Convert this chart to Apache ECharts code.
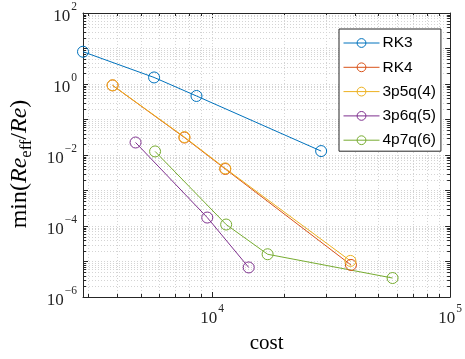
<!DOCTYPE html>
<html><head><meta charset="utf-8">
<script src="https://cdn.jsdelivr.net/npm/echarts@6/dist/echarts.min.js"></script>
<style>html,body{margin:0;padding:0;background:#fff}#c{width:465px;height:359px}</style>
</head><body><div id="c"></div><script>
// ---- data ----
const seriesNames = ['RK3', 'RK4', '3p5q(4)', '3p6q(5)', '4p7q(6)'];
const rk3Cost = [2865, 5700, 8590, 28700];
const rk3Val  = [8.1, 1.53, 0.46, 0.0129];
const rk4Cost = [3815, 7646, 11350, 38300];
const rk4Val  = [0.914, 0.031, 0.00404, 8.0e-6];
const p35Cost = [3815, 7646, 11350, 38100];
const p35Val  = [0.92, 0.032, 0.0042, 1.04e-5];
const p36Cost = [4764, 9537, 14240];
const p36Val  = [0.0225, 1.73e-4, 6.8e-6];
const p47Cost = [5755, 11450, 17100, 57300];
const p47Val  = [0.0126, 1.10e-4, 1.6e-5, 3.42e-6];
const xMin = 2865, xMax = 1e5, yMin = 1e-6, yMax = 1e2;
const xMinorTicks = [3000, 4000, 5000, 6000, 7000, 8000, 9000,
  20000, 30000, 40000, 50000, 60000, 70000, 80000, 90000];
const yMinorTicks = [
  2e-6, 3e-6, 4e-6, 5e-6, 6e-6, 7e-6, 8e-6, 9e-6,
  2e-5, 3e-5, 4e-5, 5e-5, 6e-5, 7e-5, 8e-5, 9e-5,
  2e-4, 3e-4, 4e-4, 5e-4, 6e-4, 7e-4, 8e-4, 9e-4,
  2e-3, 3e-3, 4e-3, 5e-3, 6e-3, 7e-3, 8e-3, 9e-3,
  2e-2, 3e-2, 4e-2, 5e-2, 6e-2, 7e-2, 8e-2, 9e-2,
  2e-1, 3e-1, 4e-1, 5e-1, 6e-1, 7e-1, 8e-1, 9e-1,
  2, 3, 4, 5, 6, 7, 8, 9,
  20, 30, 40, 50, 60, 70, 80, 90];
// ---- style ----
const colors = ['#0072BD', '#D95319', '#EDB120', '#7E2F8E', '#77AC30'];
const axisColor = '#262626';
const gridColor = '#d4d4d4';
const serif = "'Liberation Serif', 'DejaVu Serif', serif";
const sans = "'Liberation Sans', Arial, sans-serif";

const chart = echarts.init(document.getElementById('c'), null, {renderer: 'canvas'});
const zip = (a, b) => a.map((x, i) => [x, b[i]]);
const seriesData = [zip(rk3Cost, rk3Val), zip(rk4Cost, rk4Val), zip(p35Cost, p35Val),
  zip(p36Cost, p36Val), zip(p47Cost, p47Val)];

const expRich = {
  b: {fontFamily: serif, fontSize: 17, color: axisColor, lineHeight: 24, verticalAlign: 'bottom'},
  e: {fontFamily: serif, fontSize: 11.5, color: axisColor, lineHeight: 24, verticalAlign: 'top', padding: [0, 0, 0, 1]}
};
function fmtPow(v, skipOdd) {
  const l = Math.log10(v);
  const e = Math.round(l);
  if (Math.abs(l - e) > 1e-6) return '';
  if (skipOdd && Math.abs(e % 2) === 1) return '';
  return '{b|10}{e|' + (e < 0 ? '\u2212' + (-e) : e) + '}';
}
const px = v => Math.round(v) + 0.5;

const lineSeries = seriesNames.map((n, i) => ({
  name: n, type: 'line', data: seriesData[i], z: 5,
  symbol: 'circle', symbolSize: 11, showSymbol: true,
  lineStyle: {color: colors[i], width: 1},
  itemStyle: {color: 'rgba(255,255,255,0)', borderColor: colors[i], borderWidth: 1},
  emphasis: {disabled: true}, animation: false
}));

const xMinorSeries = {
  type: 'custom', xAxisIndex: 0, yAxisIndex: 0, z: 1, silent: true, animation: false,
  data: xMinorTicks.map(v => [v, yMin]),
  renderItem: (p, api) => {
    const v = api.value(0);
    const a = api.coord([v, yMin]), b = api.coord([v, yMax]);
    const x = px(a[0]);
    return {type: 'group', children: [
      {type: 'line', shape: {x1: x, y1: a[1], x2: x, y2: b[1]}, style: {stroke: gridColor, lineWidth: 1, lineDash: [1, 2]}},
      {type: 'line', shape: {x1: x, y1: a[1], x2: x, y2: a[1] - 3}, style: {stroke: axisColor, lineWidth: 1}},
      {type: 'line', shape: {x1: x, y1: b[1], x2: x, y2: b[1] + 3}, style: {stroke: axisColor, lineWidth: 1}}
    ]};
  }
};
const yMinorSeries = {
  type: 'custom', xAxisIndex: 0, yAxisIndex: 0, z: 1, silent: true, animation: false,
  data: yMinorTicks.map(v => [xMin, v]),
  renderItem: (p, api) => {
    const v = api.value(1);
    const a = api.coord([xMin, v]), b = api.coord([xMax, v]);
    const y = px(a[1]);
    return {type: 'group', children: [
      {type: 'line', shape: {x1: a[0], y1: y, x2: b[0], y2: y}, style: {stroke: gridColor, lineWidth: 1, lineDash: [1, 2]}},
      {type: 'line', shape: {x1: a[0], y1: y, x2: a[0] + 3, y2: y}, style: {stroke: axisColor, lineWidth: 1}},
      {type: 'line', shape: {x1: b[0], y1: y, x2: b[0] - 3, y2: y}, style: {stroke: axisColor, lineWidth: 1}}
    ]};
  }
};

const commonAxis = {
  axisLine: {show: true, lineStyle: {color: axisColor, width: 1}},
  axisTick: {show: true, inside: true, length: 5, lineStyle: {color: axisColor}},
};

chart.setOption({
  animation: false,
  backgroundColor: '#fff',
  grid: {left: 78, right: 12, top: 13, bottom: 60, containLabel: false},
  xAxis: [
    Object.assign({}, commonAxis, {
      type: 'log', logBase: 10, min: xMin, max: xMax, position: 'bottom',
      axisLabel: {formatter: v => fmtPow(v, false), rich: expRich, margin: 6, showMinLabel: false},
      splitLine: {show: true, lineStyle: {color: gridColor, type: [1, 2]}},
      name: 'cost', nameLocation: 'middle', nameGap: 36,
      nameTextStyle: {fontFamily: serif, fontSize: 21, color: '#000'}
    }),
    Object.assign({}, commonAxis, {
      type: 'log', logBase: 10, min: xMin, max: xMax, position: 'top',
      axisLabel: {show: false}, splitLine: {show: false}
    })
  ],
  yAxis: [
    Object.assign({}, commonAxis, {
      type: 'log', logBase: 10, min: yMin, max: yMax, position: 'left',
      axisLabel: {formatter: v => fmtPow(v, true), rich: expRich, margin: 6},
      splitLine: {show: true, lineStyle: {color: gridColor, type: [1, 2]}},
      name: '{n|min(}{i|Re}{s|eff}{n|/}{i|Re}{n|)}', nameLocation: 'middle', nameGap: 48, nameRotate: 90,
      nameTextStyle: {padding: [0, 18, 0, 0], rich: {
        n: {fontFamily: serif, fontSize: 24, color: '#000', lineHeight: 30},
        i: {fontFamily: serif, fontSize: 24, fontStyle: 'italic', color: '#000', lineHeight: 30},
        s: {fontFamily: serif, fontSize: 16.5, color: '#000', lineHeight: 30, verticalAlign: 'bottom', padding: [10, 0, 0, 0]}
      }}
    }),
    Object.assign({}, commonAxis, {
      type: 'log', logBase: 10, min: yMin, max: yMax, position: 'right',
      axisLabel: {show: false}, splitLine: {show: false}
    })
  ],
  legend: {
    orient: 'vertical', left: 339, top: 29, data: seriesNames,
    itemWidth: 36, itemHeight: 11, itemGap: 8.3,
    lineStyle: {width: 1}, itemStyle: {borderWidth: 1},
    padding: [6, 5, 3, 4], borderColor: axisColor, borderWidth: 1, backgroundColor: '#fff',
    textStyle: {fontFamily: sans, fontSize: 15.5, color: '#000', lineHeight: 14, padding: [0, 0, 0, -2]}, z: 10
  },
  series: [xMinorSeries, yMinorSeries].concat(lineSeries)
});
</script></body></html>
